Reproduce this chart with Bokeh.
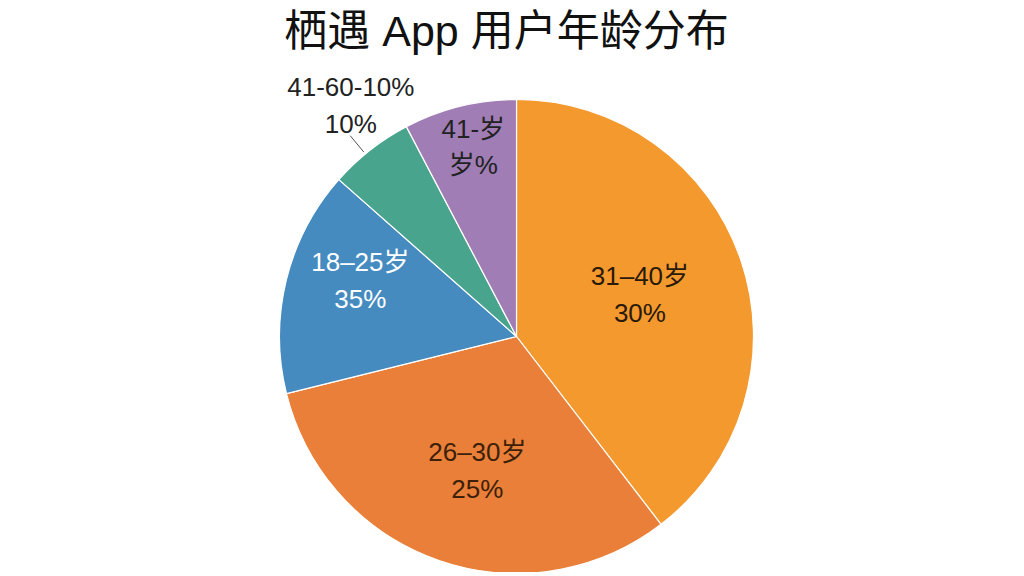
import numpy as np
from bokeh.plotting import figure
from bokeh.models import Range1d, ColumnDataSource
from bokeh.core.properties import value
from bokeh.embed import file_html
from bokeh.resources import INLINE

# ---- data ----
title_text = "栖遇 App 用户年龄分布"
categories = ["31–40岁", "26–30岁", "18–25岁", "41-60岁", "41-岁"]
shares = [39.6, 31.6, 15.4, 5.8, 7.7]          # drawn slice sizes (%)
label_texts = ["31–40岁\n30%", "26–30岁\n25%", "18–25岁\n35%",
               "41-60-10%\n10%", "41-岁\n岁%"]

# ---- styles / layout ----
colors = ["#F4992D", "#E97F38", "#468BBF", "#48A48D", "#A07DB4"]
label_colors = ["#2a1a0a", "#3d1f0a", "#ffffff", "#222222", "#222222"]
label_r = [0.55, 0.59, 0.70, 1.20, 0.82]
label_dang = [0.0, 3.0, -6.0, -2.5, -1.0]
outside = [False, False, False, True, False]

W, H = 1008, 572
cx, cy, R = 516, H - 336, 237   # plot-pixel data units
FONT = "Liberation Sans, Noto Sans CJK SC"

vals = np.array(shares, dtype=float)
frac = vals / vals.sum()
cum = np.concatenate([[0.0], np.cumsum(frac)])
start_deg = 90 - cum[:-1] * 360
end_deg = 90 - cum[1:] * 360
mid_deg = (start_deg + end_deg) / 2

p = figure(width=W, height=H, x_range=Range1d(0, W), y_range=Range1d(0, H),
           output_backend="svg", toolbar_location=None, min_border=0,
           background_fill_color="white", border_fill_color="white")
p.axis.visible = False
p.grid.visible = False
p.outline_line_color = None

src = ColumnDataSource(dict(start=np.radians(start_deg), end=np.radians(end_deg),
                            color=colors, cat=categories))
p.wedge(x=cx, y=cy, radius=R, start_angle="start", end_angle="end",
        direction="clock", fill_color="color", line_color="white",
        line_width=1.2, source=src)

la = np.radians(mid_deg + np.array(label_dang))
lr = np.array(label_r) * R
lsrc = ColumnDataSource(dict(x=cx + lr * np.cos(la), y=cy + lr * np.sin(la),
                             text=label_texts, color=label_colors))
p.text(x="x", y="y", text="text", text_color="color", source=lsrc,
       text_align="center", text_baseline="middle",
       text_font=value(FONT), text_font_size="26px", text_line_height=1.22)

# leader line for outside labels
for i, o in enumerate(outside):
    if o:
        a = np.radians(mid_deg[i] + 1.5)
        p.segment(x0=cx + 1.01 * R * np.cos(a), y0=cy + 1.01 * R * np.sin(a),
                  x1=cx + 1.10 * R * np.cos(a), y1=cy + 1.10 * R * np.sin(a),
                  line_color="#555555", line_width=1)

p.text(x=[506], y=[H - 30], text=[title_text], text_align="center",
       text_baseline="middle", text_font=value(FONT), text_font_size="43px",
       text_color="#111111")

open("out.html", "w").write(file_html(p, INLINE))
